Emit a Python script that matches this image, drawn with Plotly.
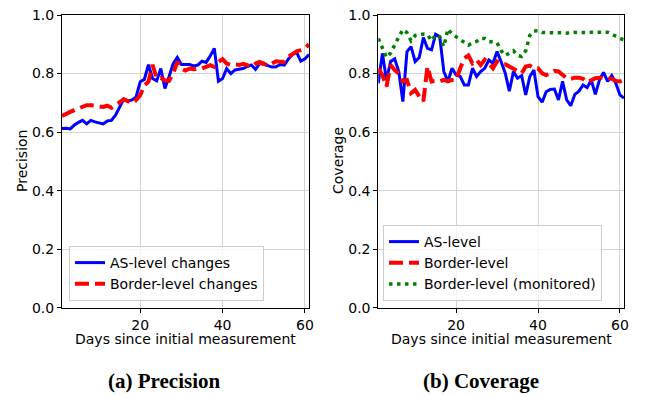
import plotly.graph_objects as go

days = list(range(1, 62))

prec_as = [0.612, 0.613, 0.611, 0.624, 0.633, 0.640, 0.628, 0.640, 0.635, 0.632,
           0.628, 0.638, 0.640, 0.658, 0.686, 0.713, 0.706, 0.710, 0.720, 0.772,
           0.780, 0.830, 0.783, 0.775, 0.817, 0.749, 0.789, 0.834, 0.855, 0.831,
           0.831, 0.831, 0.826, 0.829, 0.842, 0.838, 0.860, 0.886, 0.774, 0.783,
           0.817, 0.800, 0.812, 0.815, 0.817, 0.824, 0.829, 0.814, 0.834, 0.832,
           0.826, 0.822, 0.823, 0.831, 0.829, 0.850, 0.865, 0.872, 0.842, 0.850,
           0.865]
prec_border = [0.655, 0.664, 0.669, 0.675, 0.681, 0.689, 0.692, 0.692, 0.690, 0.686,
               0.686, 0.690, 0.683, 0.692, 0.704, 0.712, 0.706, 0.698, 0.709, 0.726,
               0.760, 0.772, 0.830, 0.783, 0.785, 0.777, 0.775, 0.800, 0.840, 0.817,
               0.810, 0.817, 0.815, 0.817, 0.817, 0.823, 0.829, 0.823, 0.840, 0.849,
               0.834, 0.829, 0.831, 0.829, 0.833, 0.829, 0.823, 0.834, 0.840, 0.834,
               0.826, 0.834, 0.842, 0.840, 0.840, 0.857, 0.868, 0.876, 0.880, 0.886,
               0.900]

cov_as = [0.767, 0.869, 0.778, 0.841, 0.850, 0.807, 0.704, 0.875, 0.892, 0.841,
          0.855, 0.923, 0.886, 0.881, 0.934, 0.926, 0.807, 0.773, 0.818, 0.795,
          0.790, 0.761, 0.761, 0.818, 0.790, 0.807, 0.818, 0.846, 0.835, 0.875,
          0.840, 0.801, 0.740, 0.807, 0.784, 0.793, 0.727, 0.790, 0.812, 0.721,
          0.702, 0.738, 0.746, 0.747, 0.710, 0.773, 0.710, 0.690, 0.729, 0.740,
          0.761, 0.752, 0.778, 0.729, 0.778, 0.804, 0.773, 0.793, 0.767, 0.727,
          0.716]
cov_border = [0.818, 0.795, 0.755, 0.829, 0.812, 0.800, 0.773, 0.778, 0.733, 0.744,
              0.722, 0.705, 0.824, 0.773, 0.775, 0.773, 0.778, 0.773, 0.778, 0.778,
              0.818, 0.852, 0.862, 0.835, 0.847, 0.829, 0.847, 0.835, 0.818, 0.841,
              0.832, 0.832, 0.824, 0.816, 0.807, 0.801, 0.824, 0.827, 0.818, 0.818,
              0.801, 0.795, 0.801, 0.809, 0.807, 0.795, 0.784, 0.782, 0.786, 0.786,
              0.782, 0.770, 0.778, 0.784, 0.786, 0.786, 0.784, 0.782, 0.775, 0.773,
              0.778]
cov_monitored = [0.920, 0.885, 0.855, 0.870, 0.900, 0.925, 0.950, 0.940, 0.912, 0.930,
                 0.932, 0.935, 0.933, 0.912, 0.932, 0.925, 0.892, 0.952, 0.935, 0.925,
                 0.916, 0.905, 0.897, 0.905, 0.910, 0.920, 0.920, 0.910, 0.907, 0.905,
                 0.878, 0.862, 0.870, 0.878, 0.862, 0.858, 0.878, 0.930, 0.945, 0.946,
                 0.940, 0.939, 0.939, 0.939, 0.939, 0.939, 0.938, 0.941, 0.940, 0.939,
                 0.939, 0.940, 0.941, 0.941, 0.943, 0.943, 0.941, 0.935, 0.927, 0.920,
                 0.915]

y_ticks = [0.0, 0.2, 0.4, 0.6, 0.8, 1.0]
x_ticks = [20, 40, 60]

FONT = "DejaVu Sans"
W, H = 646, 395

fig = go.Figure()

fig.add_trace(go.Scatter(x=days, y=prec_as, mode="lines", name="AS-level changes",
                         line=dict(color="#0000ff", width=3), xaxis="x", yaxis="y",
                         legend="legend"))
fig.add_trace(go.Scatter(x=days, y=prec_border, mode="lines", name="Border-level changes",
                         line=dict(color="#ff0000", width=4, dash="14px,6px"),
                         xaxis="x", yaxis="y", legend="legend"))

fig.add_trace(go.Scatter(x=days, y=cov_as, mode="lines", name="AS-level",
                         line=dict(color="#0000ff", width=3), xaxis="x2", yaxis="y2",
                         legend="legend2"))
fig.add_trace(go.Scatter(x=days, y=cov_border, mode="lines", name="Border-level",
                         line=dict(color="#ff0000", width=4, dash="14px,6px"),
                         xaxis="x2", yaxis="y2", legend="legend2"))
fig.add_trace(go.Scatter(x=days, y=cov_monitored, mode="lines",
                         name="Border-level (monitored)",
                         line=dict(color="#008000", width=3.5, dash="3.5px,4.5px"),
                         xaxis="x2", yaxis="y2", legend="legend2"))

def px_x(p):
    return p / W

def px_y(p):
    return 1 - p / H

top, bottom = 15, 307.7
ydom = [px_y(bottom), px_y(top)]

axis_common = dict(showline=True, mirror=True, linecolor="black", linewidth=1,
                   ticks="outside", ticklen=4, tickcolor="black", tickwidth=1,
                   showgrid=True, gridcolor="#d3d3d3", gridwidth=1, automargin=False,
                   zeroline=False, tickfont=dict(family=FONT, size=14, color="black"))

fig.update_layout(
    width=W, height=H,
    margin=dict(l=0, r=0, t=0, b=0, pad=0, autoexpand=False),
    paper_bgcolor="white", plot_bgcolor="white",
    showlegend=True,
    xaxis=dict(domain=[px_x(62), px_x(309)], range=[1, 61], tickvals=x_ticks,
               anchor="y", **axis_common),
    yaxis=dict(domain=ydom, range=[0, 1], tickvals=y_ticks, tickformat=".1f",
               anchor="x", **axis_common),
    xaxis2=dict(domain=[px_x(378.3), px_x(624)], range=[1, 61], tickvals=x_ticks,
                anchor="y2", **axis_common),
    yaxis2=dict(domain=ydom, range=[0, 1], tickvals=y_ticks, tickformat=".1f",
                anchor="x2", **axis_common),
    legend=dict(x=px_x(69), y=px_y(301), xanchor="left", yanchor="bottom",
                bgcolor="rgba(255,255,255,0.8)", bordercolor="#cccccc", borderwidth=1,
                font=dict(family=FONT, size=14, color="black"),
                tracegroupgap=0, itemwidth=30),
    legend2=dict(x=px_x(383), y=px_y(301), xanchor="left", yanchor="bottom",
                 bgcolor="rgba(255,255,255,0.8)", bordercolor="#cccccc", borderwidth=1,
                 font=dict(family=FONT, size=14, color="black"),
                 tracegroupgap=0, itemwidth=30),
)

annotations = [
    dict(text="Days since initial measurement", x=px_x(185.5), y=px_y(339),
         xref="paper", yref="paper", showarrow=False, xanchor="center", yanchor="middle",
         font=dict(family=FONT, size=14, color="black")),
    dict(text="Days since initial measurement", x=px_x(501), y=px_y(339),
         xref="paper", yref="paper", showarrow=False, xanchor="center", yanchor="middle",
         font=dict(family=FONT, size=14, color="black")),
    dict(text="Precision", x=px_x(22), y=px_y(161), textangle=-90,
         xref="paper", yref="paper", showarrow=False, xanchor="center", yanchor="middle",
         font=dict(family=FONT, size=14, color="black")),
    dict(text="Coverage", x=px_x(338), y=px_y(161), textangle=-90,
         xref="paper", yref="paper", showarrow=False, xanchor="center", yanchor="middle",
         font=dict(family=FONT, size=14, color="black")),
    dict(text="<b>(a) Precision</b>", x=px_x(164), y=px_y(381),
         xref="paper", yref="paper", showarrow=False, xanchor="center", yanchor="middle",
         font=dict(family="Liberation Serif", size=21, color="black")),
    dict(text="<b>(b) Coverage</b>", x=px_x(481), y=px_y(381),
         xref="paper", yref="paper", showarrow=False, xanchor="center", yanchor="middle",
         font=dict(family="Liberation Serif", size=21, color="black")),
]
fig.update_layout(annotations=annotations)

fig.write_html("out.html", config={"displayModeBar": False},
               post_script="document.body.style.margin='0';document.body.style.overflow='hidden';")
